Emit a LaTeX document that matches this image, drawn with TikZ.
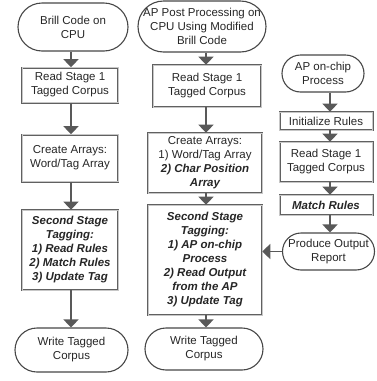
\documentclass[tikz,border=0pt]{standalone}
\usepackage{fontspec}
\setmainfont{Liberation Sans}
\usetikzlibrary{shapes.misc,arrows.meta}
\begin{document}
\begin{tikzpicture}[x=1pt,y=-1pt,
  every node/.style={font=\fontsize{11.5}{14}\selectfont, align=center, inner sep=0pt, text=black!85},
  term/.style={rounded rectangle, draw=black!72, line width=1.1pt},
  box/.style={rectangle, draw=black!62, line width=0.6pt, double=black!22, double distance=0.8pt},
  arr/.style={draw=black!65, line width=1.7pt, -{Triangle[width=15pt,length=8pt]}},
  bi/.style={font=\fontsize{11.5}{14}\selectfont\bfseries\itshape}
]
\useasboundingbox (0,0) rectangle (376,381);
\coordinate (lx) at (71,0);
\coordinate (mx) at (206,0);
\coordinate (rx) at (330,0);

% left column
\node[term, minimum width=110, minimum height=48] (t1) at (73,27) {};
\node (t1l) at (t1) {Brill Code on\\CPU};
\node[box, minimum width=96, minimum height=35] (b1) at (70,85) {Read Stage 1\\Tagged Corpus};
\node[box, minimum width=96, minimum height=47] (b2) at (70,158) {Create Arrays:\\Word/Tag Array};
\node[box, bi, minimum width=96, minimum height=80] (b3) at (70,250) {Second Stage\\Tagging:\\1) Read Rules\\2) Match Rules\\3) Update Tag};
\node[term, minimum width=113, minimum height=44] (t2) at (71.5,350) {};
\node (t2l) at (t2) {Write Tagged\\Corpus};

% middle column
\node[term, minimum width=128, minimum height=51] (t3) at (202,26.5) {};
\node (t3l) at (t3) {AP Post Processing on\\CPU Using Modified\\Brill Code};
\node[box, minimum width=108, minimum height=42] (b4) at (207,86) {Read Stage 1\\Tagged Corpus};
\node[box, minimum width=114, minimum height=60] (b5) at (205,163) {Create Arrays:\\1) Word/Tag Array\\{\bfseries\itshape 2) Char Position}\\{\bfseries\itshape Array}};
\node[box, bi, minimum width=114, minimum height=110] (b6) at (205,260) {Second Stage\\Tagging:\\1) AP on-chip\\Process\\2) Read Output\\from the AP\\3) Update Tag};
\node[term, minimum width=118, minimum height=42] (t4) at (204,349) {};
\node (t4l) at (t4) {Write Tagged\\Corpus};

% right column
\node[term, minimum width=82, minimum height=37] (t5) at (323,73.5) {};
\node (t5l) at (t5) {AP on-chip\\Process};
\node[box, minimum width=93, minimum height=18] (b7) at (326,121) {Initialize Rules};
\node[box, minimum width=93, minimum height=40] (b8) at (326,162) {Read Stage 1\\Tagged Corpus};
\node[box, bi, minimum width=93, minimum height=20] (b9) at (326,205) {Match Rules};
\node[term, minimum width=92, minimum height=37] (t6) at (328.5,251.5) {};
\node (t6l) at (t6) {Produce Output\\Report};

% arrows
\draw[arr] (t1.south -| lx) -- (b1.north -| lx);
\draw[arr] (b1.south -| lx) -- (b2.north -| lx);
\draw[arr] (b2.south -| lx) -- (b3.north -| lx);
\draw[arr] (b3.south -| lx) -- (t2.north -| lx);

\draw[arr] (t3.south -| mx) -- (b4.north -| mx);
\draw[arr] (b4.south -| mx) -- (b5.north -| mx);
\draw[arr] (b5.south -| mx) -- (b6.north -| mx);
\draw[arr] (b6.south -| mx) -- (t4.north -| mx);

\draw[arr] (t5.south -| rx) -- (b7.north -| rx);
\draw[arr] (b7.south -| rx) -- (b8.north -| rx);
\draw[arr] (b8.south -| rx) -- (b9.north -| rx);
\draw[arr] (b9.south -| rx) -- (t6.north -| rx);
\draw[arr] (t6.west) -- (t6.west -| b6.east);
\end{tikzpicture}
\end{document}
